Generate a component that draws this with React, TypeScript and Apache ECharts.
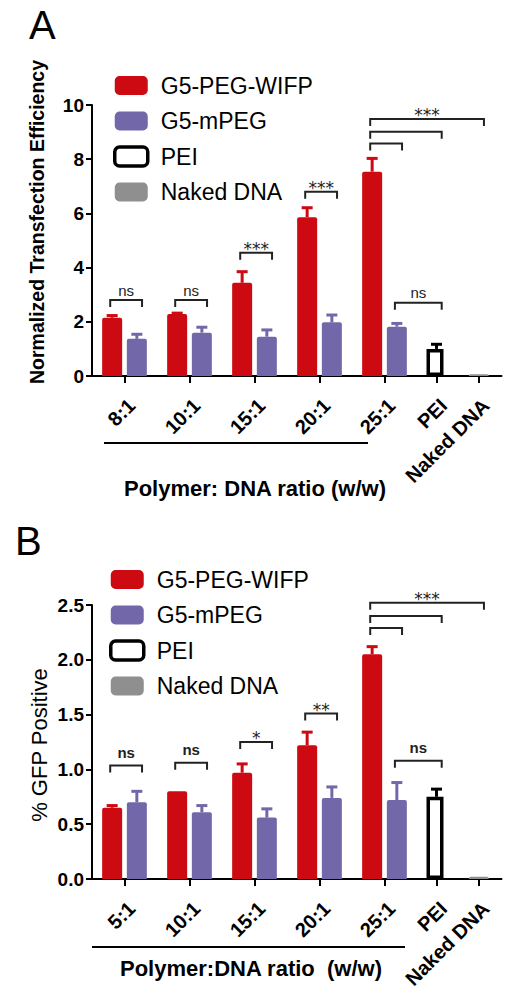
import React, { useEffect, useRef } from 'react';
import * as echarts from 'echarts';

// ---------- data ----------
const SERIES_NAMES = ['G5-PEG-WIFP', 'G5-mPEG', 'PEI', 'Naked DNA'];
const RATIOS_A = ['8:1', '10:1', '15:1', '20:1', '25:1'];
const RATIOS_B = ['5:1', '10:1', '15:1', '20:1', '25:1'];
const CONTROLS = ['PEI', 'Naked DNA'];

// Panel A: Normalized Transfection Efficiency
const WIFP_A = [2.15, 2.29, 3.44, 5.86, 7.54];
const WIFP_A_ERR = [0.08, 0.03, 0.41, 0.35, 0.49];
const MPEG_A = [1.37, 1.6, 1.45, 1.98, 1.82];
const MPEG_A_ERR = [0.17, 0.2, 0.25, 0.27, 0.12];
const PEI_A = [1.0];
const PEI_A_ERR = [0.17];
const NAKED_A = [0.06];

// Panel B: % GFP Positive
const WIFP_B = [0.65, 0.8, 0.97, 1.22, 2.05];
const WIFP_B_ERR = [0.02, 0.0, 0.08, 0.12, 0.07];
const MPEG_B = [0.7, 0.61, 0.56, 0.74, 0.72];
const MPEG_B_ERR = [0.1, 0.06, 0.08, 0.1, 0.16];
const PEI_B = [0.75];
const PEI_B_ERR = [0.07];
const NAKED_B = [0.02];

// significance brackets: from bar, to bar, height (axis units), label
const SIG_A = [
  { from: 'w0', to: 'm0', y: 2.8, label: 'ns' },
  { from: 'w1', to: 'm1', y: 2.8, label: 'ns' },
  { from: 'w2', to: 'm2', y: 4.55, label: '***' },
  { from: 'w3', to: 'm3', y: 6.8, label: '***' },
  { from: 'm4', to: 'pei', y: 2.7, label: 'ns' },
  { from: 'w4', to: 'm4', y: 8.58, label: '' },
  { from: 'w4', to: 'pei', y: 9.01, label: '' },
  { from: 'w4', to: 'naked', y: 9.48, label: '***' },
];
const SIG_B = [
  { from: 'w0', to: 'm0', y: 1.035, label: 'ns' },
  { from: 'w1', to: 'm1', y: 1.06, label: 'ns' },
  { from: 'w2', to: 'm2', y: 1.25, label: '*' },
  { from: 'w3', to: 'm3', y: 1.51, label: '**' },
  { from: 'm4', to: 'pei', y: 1.08, label: 'ns' },
  { from: 'w4', to: 'm4', y: 2.29, label: '' },
  { from: 'w4', to: 'pei', y: 2.4, label: '' },
  { from: 'w4', to: 'naked', y: 2.52, label: '***' },
];

// ---------- layout ----------
const FONT = '"Liberation Sans", Arial, Helvetica, sans-serif';
const STAR_FONT = '"DejaVu Sans", sans-serif';
const RED = '#CD0A12';
const PURPLE = '#7268A9';
const GRAY = '#8F8F8F';
const GROUP_POS = [0.5, 1.5, 2.5, 3.5, 4.5];
const PEI_POS = 5.3;
const NAKED_POS = 5.95;
const PAIR_OFFSET = 0.19;
const X_MAX = 6.3;
const TICK_POS = [...GROUP_POS, PEI_POS, NAKED_POS];

function barX(ref: string): number {
  if (ref === 'pei') return PEI_POS;
  if (ref === 'naked') return NAKED_POS;
  const i = Number(ref.slice(1));
  return GROUP_POS[i] + (ref[0] === 'w' ? -PAIR_OFFSET : PAIR_OFFSET);
}

function errRender(color: string) {
  return (params: any, api: any) => {
    const x = api.value(0);
    const v = api.value(1);
    const e = api.value(2);
    if (!(e > 0)) return { type: 'group', children: [] };
    const p0 = api.coord([x, v]);
    const p1 = api.coord([x, v + e]);
    const st = { stroke: color, lineWidth: 3 };
    return {
      type: 'group',
      children: [
        { type: 'line', shape: { x1: p0[0], y1: p0[1], x2: p1[0], y2: p1[1] }, style: st },
        { type: 'line', shape: { x1: p1[0] - 5.5, y1: p1[1], x2: p1[0] + 5.5, y2: p1[1] }, style: st },
      ],
    };
  };
}

function sigRender(sig: { label: string }[], bold: boolean) {
  return (params: any, api: any) => {
    const a = api.coord([api.value(0), api.value(2)]);
    const b = api.coord([api.value(1), api.value(2)]);
    const leg = 7;
    const children: any[] = [
      {
        type: 'polyline',
        shape: { points: [[a[0], a[1] + leg], [a[0], a[1]], [b[0], b[1]], [b[0], b[1] + leg]] },
        style: { stroke: '#222', lineWidth: 2, fill: 'none' },
      },
    ];
    const label = sig[params.dataIndex].label;
    if (label) {
      const star = label[0] === '*';
      children.push({
        type: 'text',
        x: (a[0] + b[0]) / 2,
        y: a[1] - (star ? 4 : bold ? 13 : 10),
        style: {
          text: label,
          align: 'center',
          verticalAlign: 'middle',
          fontFamily: star ? STAR_FONT : FONT,
          fontSize: star ? 17 : 15,
          fontWeight: bold && !star ? 'bold' : 'normal',
          fill: '#222',
        },
      });
    }
    return { type: 'group', children };
  };
}

function panel(idx: number, cfg: any) {
  const labels = [...cfg.ratios, ...CONTROLS];
  const xAxis = {
    type: 'value',
    gridIndex: idx,
    min: 0,
    max: X_MAX,
    axisLine: { show: true, onZero: false, lineStyle: { color: '#000', width: 2 } },
    axisTick: { show: true, customValues: TICK_POS, length: 7, lineStyle: { color: '#000', width: 2 } },
    axisLabel: {
      customValues: TICK_POS,
      rotate: 45,
      margin: 19,
      align: 'right',
      verticalAlign: 'top',
      color: '#000',
      fontFamily: FONT,
      fontSize: 20,
      fontWeight: 'bold',
      formatter: (v: number) => {
        const i = TICK_POS.findIndex((p) => Math.abs(p - v) < 1e-6);
        return i >= 0 ? labels[i] : '';
      },
    },
    splitLine: { show: false },
  };
  const yAxis = {
    type: 'value',
    gridIndex: idx,
    min: 0,
    max: cfg.max,
    interval: cfg.interval,
    axisLine: { show: true, lineStyle: { color: '#000', width: 2 } },
    axisTick: { show: true, length: 6, lineStyle: { color: '#000', width: 2 } },
    axisLabel: {
      margin: 8,
      color: '#000',
      fontFamily: FONT,
      fontSize: 19,
      fontWeight: 'bold',
      formatter: cfg.fmt,
    },
    splitLine: { show: false },
  };
  const base = { type: 'bar', xAxisIndex: idx, yAxisIndex: idx, barGap: '-100%', barWidth: 20, z: 3 };
  const series: any[] = [
    {
      ...base,
      name: SERIES_NAMES[0],
      itemStyle: { color: RED, borderRadius: [2, 2, 0, 0] },
      data: cfg.wifp.map((v: number, i: number) => [barX('w' + i), v]),
    },
    {
      ...base,
      name: SERIES_NAMES[1],
      itemStyle: { color: PURPLE, borderRadius: [2, 2, 0, 0] },
      data: cfg.mpeg.map((v: number, i: number) => [barX('m' + i), v]),
    },
    {
      ...base,
      name: SERIES_NAMES[2],
      barWidth: 17,
      itemStyle: { color: '#fff', borderColor: '#000', borderWidth: 3.5 },
      data: cfg.pei.map((v: number) => [PEI_POS, v]),
    },
    {
      ...base,
      name: SERIES_NAMES[3],
      itemStyle: { color: GRAY, borderRadius: [2, 2, 0, 0] },
      data: cfg.naked.map((v: number) => [NAKED_POS, v]),
    },
  ];
  const errSets = [
    { color: RED, data: cfg.wifp.map((v: number, i: number) => [barX('w' + i), v, cfg.wifpErr[i]]) },
    { color: PURPLE, data: cfg.mpeg.map((v: number, i: number) => [barX('m' + i), v, cfg.mpegErr[i]]) },
    { color: '#000', data: cfg.pei.map((v: number, i: number) => [PEI_POS, v, cfg.peiErr[i]]) },
  ];
  errSets.forEach((s) =>
    series.push({
      type: 'custom',
      xAxisIndex: idx,
      yAxisIndex: idx,
      z: 2,
      clip: false,
      encode: { x: 0, y: 1 },
      renderItem: errRender(s.color),
      data: s.data,
    })
  );
  series.push({
    type: 'custom',
    xAxisIndex: idx,
    yAxisIndex: idx,
    z: 4,
    clip: false,
    encode: { x: [0, 1], y: 2 },
    renderItem: sigRender(cfg.sig, cfg.boldNs),
    data: cfg.sig.map((s: any) => [barX(s.from) - 0.03, barX(s.to) + 0.08, s.y]),
  });
  const legend = {
    orient: 'vertical',
    left: cfg.legendLeft,
    top: cfg.legendTop,
    padding: 0,
    itemWidth: 33,
    itemHeight: 19,
    itemGap: 12.5,
    selectedMode: false,
    icon: 'roundRect',
    textStyle: { fontFamily: FONT, fontSize: 23, color: '#000', lineHeight: 19, padding: [0, 0, 0, 8] },
    data: [
      { name: SERIES_NAMES[0], itemStyle: { color: RED } },
      { name: SERIES_NAMES[1], itemStyle: { color: PURPLE } },
      { name: SERIES_NAMES[2], itemStyle: { color: '#fff', borderColor: '#000', borderWidth: 3.5 } },
      { name: SERIES_NAMES[3], itemStyle: { color: GRAY } },
    ],
  };
  return { xAxis, yAxis, series, legend };
}

export default function App() {
  const ref = useRef<HTMLDivElement>(null);
  useEffect(() => {
    if (!ref.current) return;
    const chart = echarts.init(ref.current, undefined, { renderer: 'svg' });
    const pa = panel(0, {
      ratios: RATIOS_A,
      max: 10,
      interval: 2,
      fmt: (v: number) => String(v),
      wifp: WIFP_A,
      wifpErr: WIFP_A_ERR,
      mpeg: MPEG_A,
      mpegErr: MPEG_A_ERR,
      pei: PEI_A,
      peiErr: PEI_A_ERR,
      naked: NAKED_A,
      sig: SIG_A,
      boldNs: false,
      legendLeft: 113,
      legendTop: 74,
    });
    const pb = panel(1, {
      ratios: RATIOS_B,
      max: 2.5,
      interval: 0.5,
      fmt: (v: number) => v.toFixed(1),
      wifp: WIFP_B,
      wifpErr: WIFP_B_ERR,
      mpeg: MPEG_B,
      mpegErr: MPEG_B_ERR,
      pei: PEI_B,
      peiErr: PEI_B_ERR,
      naked: NAKED_B,
      sig: SIG_B,
      boldNs: true,
      legendLeft: 109,
      legendTop: 568,
    });
    const txt = (text: string, x: number, y: number, size: number, weight: string, rot = 0, align = 'center') => ({
      type: 'text',
      x,
      y,
      rotation: rot,
      style: { text, fontFamily: FONT, fontSize: size, fontWeight: weight, fill: '#000', align, verticalAlign: 'middle' },
    });
    chart.setOption({
      animation: false,
      backgroundColor: '#fff',
      grid: [
        { left: 92, top: 105, width: 409.5, height: 271 },
        { left: 92, top: 605, width: 409.5, height: 274 },
      ],
      xAxis: [pa.xAxis, pb.xAxis],
      yAxis: [pa.yAxis, pb.yAxis],
      legend: [pa.legend, pb.legend],
      series: [...pa.series, ...pb.series],
      graphic: [
        txt('A', 29, 25, 40, 'normal', 0, 'left'),
        txt('B', 15, 541, 40, 'normal', 0, 'left'),
        txt('Normalized Transfection Efficiency', 37, 222, 19.5, 'bold', Math.PI / 2),
        txt('% GFP Positive', 39, 745, 22, 'normal', Math.PI / 2),
        { type: 'line', shape: { x1: 104, y1: 443, x2: 368, y2: 443 }, style: { stroke: '#000', lineWidth: 2 } },
        txt('Polymer: DNA ratio (w/w)', 255, 488, 22, 'bold'),
        { type: 'line', shape: { x1: 92, y1: 947, x2: 405, y2: 947 }, style: { stroke: '#000', lineWidth: 2 } },
        txt('Polymer:DNA ratio  (w/w)', 251, 968, 22, 'bold'),
      ],
    });
    return () => chart.dispose();
  }, []);
  return <div ref={ref} style={{ position: 'absolute', left: 0, top: 0, width: 512, height: 995 }} />;
}
